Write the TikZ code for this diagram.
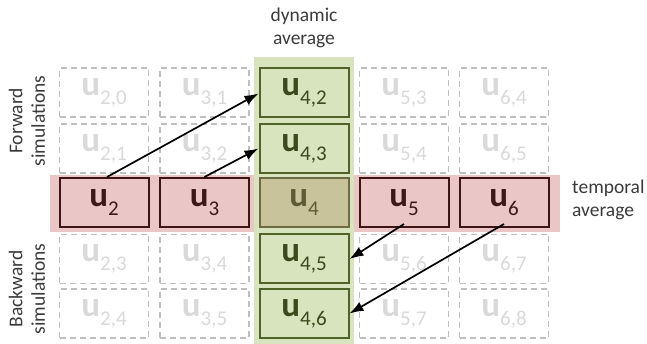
\documentclass[tikz,border=0pt]{standalone}
\usepackage{fontspec}
\setmainfont{Carlito}
\usetikzlibrary{arrows.meta}
\definecolor{pinkband}{HTML}{EBC6C6}
\definecolor{greenband}{HTML}{D7E4BD}
\definecolor{greenline}{HTML}{4F6228}
\definecolor{greentext}{HTML}{3A4A1C}
\definecolor{redline}{HTML}{3F1414}
\definecolor{redtext}{HTML}{3C1818}
\definecolor{tanfill}{HTML}{C9C39C}
\definecolor{tanline}{HTML}{6E6A44}
\definecolor{tantext}{HTML}{5E5A34}
\definecolor{ghostline}{HTML}{BFBFBF}
\definecolor{ghosttext}{HTML}{D9D9D9}
\definecolor{labeltext}{HTML}{3A3A3A}
\newcommand{\uu}[1]{{\fontsize{35}{35}\selectfont\bfseries u}\raisebox{-9pt}{\fontsize{21}{21}\selectfont #1}}
\begin{document}
\begin{tikzpicture}[x=1pt,y=-1pt,
  cell/.style={minimum width=89pt,minimum height=49pt,inner sep=0pt,line width=1.5pt},
  ghost/.style={cell,draw=ghostline,dashed,dash pattern=on 6pt off 4pt,text=ghosttext},
  dyn/.style={cell,draw=greenline,fill=greenband,text=greentext,line width=2pt},
  tmp/.style={cell,draw=redline,fill=pinkband,text=redtext,line width=2pt},
  ctr/.style={cell,draw=tanline,fill=tanfill,text=tantext,line width=2pt},
  lbl/.style={align=center,text=labeltext,font=\fontsize{19.5}{22.5}\selectfont,inner sep=0pt},
  arr/.style={-{Latex[length=14pt,width=10pt]},line width=1.7pt,black}]
\useasboundingbox (0,0) rectangle (647,344);
\fill[pinkband] (50,175) rectangle (560,232);
\fill[greenband] (254,57) rectangle (354,344);
% row 1
\node[ghost] (c20) at (104,92.5) {\uu{2,0}};
\node[ghost] (c31) at (204.5,92.5) {\uu{3,1}};
\node[dyn]   (c42) at (304,92.5) {\uu{4,2}};
\node[ghost] (c53) at (404,92.5) {\uu{5,3}};
\node[ghost] (c64) at (504,92.5) {\uu{6,4}};
% row 2
\node[ghost] (c21) at (104,148.5) {\uu{2,1}};
\node[ghost] (c32) at (204.5,148.5) {\uu{3,2}};
\node[dyn]   (c43) at (304,148.5) {\uu{4,3}};
\node[ghost] (c54) at (404,148.5) {\uu{5,4}};
\node[ghost] (c65) at (504,148.5) {\uu{6,5}};
% row 3
\node[tmp] (u2) at (104,202.5) {\uu{2}};
\node[tmp] (u3) at (204.5,202.5) {\uu{3}};
\node[ctr] (u4) at (304,202.5) {\uu{4}};
\node[tmp] (u5) at (404,202.5) {\uu{5}};
\node[tmp] (u6) at (504,202.5) {\uu{6}};
% row 4
\node[ghost] (c23) at (104,259) {\uu{2,3}};
\node[ghost] (c34) at (204.5,259) {\uu{3,4}};
\node[dyn]   (c45) at (304,259) {\uu{4,5}};
\node[ghost] (c56) at (404,259) {\uu{5,6}};
\node[ghost] (c67) at (504,259) {\uu{6,7}};
% row 5
\node[ghost] (c24) at (104,313.5) {\uu{2,4}};
\node[ghost] (c35) at (204.5,313.5) {\uu{3,5}};
\node[dyn]   (c46) at (304,313.5) {\uu{4,6}};
\node[ghost] (c57) at (404,313.5) {\uu{5,7}};
\node[ghost] (c68) at (504,313.5) {\uu{6,8}};
% arrows
\draw[arr] ([xshift=3pt]u2.north) -- ([yshift=-1pt]c42.west);
\draw[arr] (u3.north) -- (c43.west);
\draw[arr] ([yshift=4pt]u5.south) -- (c45.east);
\draw[arr] ([yshift=4pt]u6.south) -- (c46.east);
% labels
\node[lbl] (dynl) at (304,28) {dynamic\\average};
\node[lbl,align=left,anchor=west] (tmpl) at (572,200) {temporal\\average};
\node[lbl,rotate=90] (fwd) at (27,121) {Forward\\simulations};
\node[lbl,rotate=90] (bwd) at (27,289) {Backward\\simulations};
\end{tikzpicture}
\end{document}
